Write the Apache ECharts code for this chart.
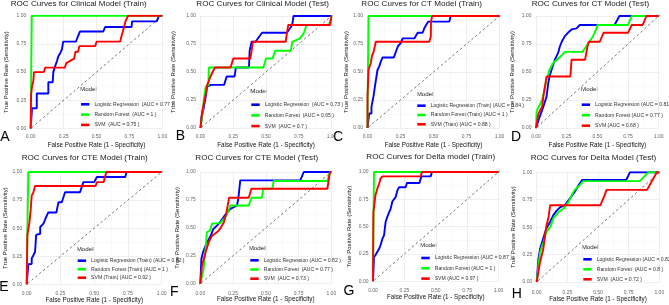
<!DOCTYPE html>
<html>
<head>
<meta charset="utf-8">
<script src="https://cdn.jsdelivr.net/npm/echarts@6/dist/echarts.min.js"></script>
<style>
html, body { margin: 0; padding: 0; background: #fff; }
#roc-chart { width: 669px; height: 305px; }
</style>
</head>
<body>
<div id="roc-chart"></div>
<script>
// [fpr, tpr] points
const clinTrainLR = [[0,0],[0.008,0],[0.01,0.18],[0.046,0.18],[0.046,0.31],[0.134,0.31],[0.134,0.41],[0.167,0.41],[0.172,0.5],[0.185,0.55],[0.2,0.6],[0.21,0.64],[0.225,0.67],[0.237,0.7],[0.247,0.77],[0.344,0.77],[0.36,0.82],[0.375,0.86],[0.552,0.86],[0.565,0.9],[0.767,0.9],[0.77,0.95],[0.957,0.95],[0.975,1],[1,1]];
const clinTrainRF = [[0,0],[0.008,1],[1,1]];
const clinTrainSVM = [[0,0],[0.003,0.3],[0.01,0.37],[0.02,0.42],[0.025,0.5],[0.1,0.5],[0.11,0.54],[0.26,0.54],[0.27,0.58],[0.3,0.6],[0.33,0.62],[0.34,0.68],[0.36,0.68],[0.37,0.73],[0.49,0.73],[0.5,0.77],[0.68,0.77],[0.69,0.82],[0.7,0.86],[0.71,0.9],[0.72,0.95],[0.74,1],[1,1]];

const clinTestLR = [[0,0],[0.008,0.1],[0.02,0.15],[0.04,0.28],[0.05,0.37],[0.08,0.385],[0.18,0.385],[0.2,0.46],[0.26,0.46],[0.27,0.54],[0.37,0.54],[0.375,0.69],[0.39,0.77],[0.42,0.77],[0.47,0.85],[0.66,0.85],[0.7,0.92],[0.71,1],[1,1]];
const clinTestRF = [[0,0],[0.013,0.1],[0.025,0.25],[0.04,0.37],[0.06,0.38],[0.064,0.54],[0.48,0.54],[0.5,0.62],[0.55,0.62],[0.57,0.69],[0.69,0.69],[0.7,0.77],[0.76,0.8],[0.79,0.85],[0.81,0.92],[0.98,0.92],[1,1]];
const clinTestSVM = [[0,0],[0.013,0.15],[0.04,0.3],[0.05,0.38],[0.076,0.46],[0.11,0.54],[0.23,0.54],[0.25,0.62],[0.38,0.62],[0.39,0.69],[0.4,0.77],[0.65,0.77],[0.66,0.85],[0.67,0.92],[0.99,0.92],[1,1]];

const ctTrainLR = [[0,0],[0.013,0.13],[0.03,0.13],[0.03,0.19],[0.045,0.28],[0.056,0.37],[0.068,0.46],[0.076,0.52],[0.089,0.55],[0.1,0.59],[0.114,0.63],[0.2,0.63],[0.23,0.73],[0.253,0.76],[0.266,0.8],[0.355,0.8],[0.38,0.85],[0.418,0.85],[0.43,0.89],[0.46,0.95],[0.62,0.95],[0.63,1],[1,1]];
const ctTrainRF = [[0,0],[0.003,0.46],[0.008,1],[1,1]];
const ctTrainSVM = [[0,0],[0,0.28],[0.008,0.52],[0.025,0.58],[0.033,0.64],[0.046,0.68],[0.063,0.77],[0.468,0.77],[0.48,0.82],[0.481,0.95],[0.49,1],[1,1]];

const ctTestLR = [[0,0],[0.03,0.1],[0.06,0.19],[0.086,0.28],[0.1,0.4],[0.11,0.46],[0.127,0.52],[0.154,0.61],[0.18,0.67],[0.195,0.73],[0.21,0.77],[0.235,0.82],[0.26,0.85],[0.29,0.88],[0.33,0.89],[0.357,0.92],[0.64,0.92],[0.68,1],[1,1]];
const ctTestRF = [[0,0],[0.005,0.15],[0.05,0.25],[0.086,0.43],[0.11,0.52],[0.14,0.58],[0.17,0.61],[0.21,0.65],[0.235,0.68],[0.38,0.68],[0.41,0.73],[0.465,0.82],[0.49,0.88],[0.5,0.92],[0.75,0.92],[0.78,1],[1,1]];
const ctTestSVM = [[0,0],[0.02,0.13],[0.05,0.19],[0.06,0.28],[0.086,0.46],[0.28,0.46],[0.29,0.61],[0.4,0.61],[0.42,0.73],[0.43,0.77],[0.52,0.77],[0.55,0.85],[0.75,0.85],[0.78,0.92],[0.87,0.92],[0.9,1],[1,1]];

const cteTrainLR = [[0,0],[0.012,0.18],[0.037,0.18],[0.037,0.23],[0.05,0.26],[0.062,0.29],[0.07,0.44],[0.1,0.45],[0.1,0.51],[0.124,0.54],[0.148,0.61],[0.16,0.64],[0.22,0.64],[0.235,0.73],[0.26,0.73],[0.284,0.82],[0.395,0.82],[0.42,0.91],[0.5,0.91],[0.52,0.955],[0.73,0.955],[0.74,1],[1,1]];
const cteTrainRF = [[0,0],[0.005,0.47],[0.012,1],[1,1]];
const cteTrainSVM = [[0,0],[0.005,0.44],[0.02,0.55],[0.03,0.67],[0.037,0.79],[0.05,0.82],[0.062,0.875],[0.51,0.875],[0.52,0.91],[0.57,0.91],[0.58,0.955],[0.59,1],[1,1]];

const cteTestLR = [[0,0],[0.008,0.22],[0.02,0.28],[0.05,0.37],[0.076,0.42],[0.1,0.49],[0.127,0.52],[0.15,0.55],[0.18,0.6],[0.2,0.63],[0.23,0.67],[0.28,0.7],[0.29,0.76],[0.305,0.925],[0.763,0.925],[0.79,1],[1,1]];
const cteTestRF = [[0,0],[0.025,0.13],[0.04,0.31],[0.05,0.46],[0.076,0.48],[0.09,0.54],[0.15,0.54],[0.18,0.58],[0.2,0.61],[0.23,0.7],[0.37,0.7],[0.39,0.77],[0.47,0.77],[0.48,0.85],[0.55,0.85],[0.56,0.92],[0.97,0.92],[0.99,1],[1,1]];
const cteTestSVM = [[0,0],[0.013,0.16],[0.04,0.28],[0.064,0.37],[0.09,0.43],[0.127,0.46],[0.15,0.49],[0.18,0.55],[0.2,0.64],[0.22,0.77],[0.37,0.77],[0.39,0.85],[0.97,0.85],[0.99,1],[1,1]];

const deltaTrainLR = [[0,0],[0.008,0.22],[0.02,0.24],[0.035,0.27],[0.05,0.3],[0.06,0.33],[0.075,0.39],[0.088,0.42],[0.1,0.54],[0.114,0.59],[0.128,0.63],[0.14,0.66],[0.154,0.73],[0.18,0.77],[0.194,0.83],[0.207,0.86],[0.26,0.86],[0.27,0.9],[0.37,0.9],[0.385,0.96],[0.46,0.96],[0.47,1],[1,1]];
const deltaTrainRF = [[0,0],[0.003,0.46],[0.008,1],[1,1]];
const deltaTrainSVM = [[0,0],[0.003,0.63],[0.013,0.63],[0.02,0.79],[0.035,0.85],[0.048,0.89],[0.06,0.94],[0.075,0.96],[0.38,0.96],[0.39,1],[1,1]];

const deltaTestLR = [[0,0],[0.014,0.21],[0.027,0.3],[0.054,0.4],[0.08,0.49],[0.11,0.55],[0.136,0.61],[0.163,0.65],[0.19,0.68],[0.23,0.7],[0.27,0.76],[0.31,0.82],[0.34,0.88],[0.37,0.93],[0.73,0.93],[0.76,1],[1,1]];
const deltaTestRF = [[0,0],[0.014,0.15],[0.027,0.27],[0.054,0.36],[0.08,0.46],[0.11,0.5],[0.136,0.58],[0.18,0.64],[0.22,0.67],[0.26,0.73],[0.285,0.79],[0.31,0.84],[0.35,0.88],[0.38,0.92],[0.84,0.92],[0.91,1],[1,1]];
const deltaTestSVM = [[0,0],[0.027,0.18],[0.054,0.3],[0.068,0.43],[0.08,0.52],[0.095,0.58],[0.11,0.7],[0.52,0.7],[0.55,0.78],[0.57,0.84],[0.9,0.84],[0.94,0.92],[0.98,1],[1,1]];

const diagonal = [[-0.05,-0.05],[1.05,1.05]];

const titles = [
  'ROC Curves for Clinical Model (Train)', 'ROC Curves for Clinical Model (Test)',
  'ROC Curves for CT Model (Train)', 'ROC Curves for CT Model (Test)',
  'ROC Curves for CTE Model (Train)', 'ROC Curves for CTE Model (Test)',
  'ROC Curves for Delta model (Train)', 'ROC Curves for Delta Model (Test)'
];
const letters = ['A', 'B', 'C', 'D', 'E', 'F', 'G', 'H'];
const legendLabels = [
  ['Logistic Regression  (AUC = 0.77 )', 'Random Forest  (AUC = 1 )', 'SVM  (AUC = 0.75 )'],
  ['Logistic Regression  (AUC = 0.73 )', 'Random Forest  (AUC = 0.65 )', 'SVM  (AUC = 0.7 )'],
  ['Logistic Regression (Train) (AUC = 0.84 )', 'Random Forest (Train) (AUC = 1 )', 'SVM (Train) (AUC = 0.88 )'],
  ['Logistic Regression (AUC = 0.81 )', 'Random Forest (AUC = 0.77 )', 'SVM (AUC = 0.68 )'],
  ['Logistic Regression (Train) (AUC = 0.82 )', 'Random Forest (Train) (AUC = 1 ) ', 'SVM (Train) (AUC = 0.92 )'],
  ['Logistic Regression (AUC = 0.82 )', 'Random Forest  (AUC = 0.77 )', 'SVM  (AUC = 0.73 )'],
  ['Logistic Regression (AUC = 0.87 )', 'Random Forest (AUC = 1 )', 'SVM (AUC = 0.97 )'],
  ['Logistic Regression (AUC = 0.82 )', 'Random Forest  (AUC = 0.8 )', 'SVM  (AUC = 0.72 )']
];
const curves = [
  [clinTrainLR, clinTrainRF, clinTrainSVM],
  [clinTestLR, clinTestRF, clinTestSVM],
  [ctTrainLR, ctTrainRF, ctTrainSVM],
  [ctTestLR, ctTestRF, ctTestSVM],
  [cteTrainLR, cteTrainRF, cteTrainSVM],
  [cteTestLR, cteTestRF, cteTestSVM],
  [deltaTrainLR, deltaTrainRF, deltaTrainSVM],
  [deltaTestLR, deltaTestRF, deltaTestSVM]
];

// pixel layout of each panel
const boxes = [
  { l: 30.7, t: 15.7, w: 131.6, h: 112.8, xGap: 14, yGap: 21, lm: 6, tx: 10.7, ty: 0, kx: 5, ky: 137, gx: 81, gy: 101.3, gg: 4.3, mx: 80, my: 90 },
  { l: 200.5, t: 16, w: 131, h: 112, xGap: 14, yGap: 24, lm: 6, tx: 196.3, ty: 0, kx: 180.3, ky: 136, gx: 251.3, gy: 101.7, gg: 4.7, mx: 250.3, my: 92.3 },
  { l: 367.5, t: 16, w: 132, h: 112, xGap: 14, yGap: 17, lm: 6, tx: 361.3, ty: 0, kx: 338, ky: 137.5, gx: 417.3, gy: 102.7, gg: 3.3, mx: 416.7, my: 95.7 },
  { l: 536, t: 16, w: 122.7, h: 112, xGap: 14, yGap: 21, lm: 6, tx: 531.7, ty: 0, kx: 516, ky: 137.3, gx: 581.7, gy: 101.7, gg: 4.5, mx: 581, my: 90.7 },
  { l: 26.7, t: 172, w: 135, h: 112.3, xGap: 11, yGap: 18, lm: 7, tx: 21.7, ty: 154, kx: 4, ky: 287, gx: 77.7, gy: 257.7, gg: 2.5, mx: 76.7, my: 250.3 },
  { l: 200.3, t: 172, w: 131, h: 111.7, xGap: 11.5, yGap: 20, lm: 7, tx: 195.3, ty: 154, kx: 174.3, ky: 292, gx: 250.3, gy: 257.3, gg: 3.2, mx: 248.7, my: 249.7 },
  { l: 373, t: 172, w: 125.5, h: 109.3, xGap: 13.2, yGap: 21, lm: 7, tx: 366.3, ty: 153, kx: 349, ky: 291, gx: 421.3, gy: 255, gg: 4.3, mx: 420, my: 246.3 },
  { l: 536.7, t: 172.3, w: 122.6, h: 109.7, xGap: 13, yGap: 20, lm: 8, tx: 530.7, ty: 154, kx: 516.7, ky: 293.7, gx: 583.3, gy: 256.3, gg: 4, mx: 581.7, my: 248.7 }
];

const modelColors = ['#0000FF', '#00FF00', '#FF0000'];
const fontFamily = 'Liberation Sans, Arial, sans-serif';

let rocChart = echarts.init(document.getElementById('roc-chart'));

let grid = [], xAxis = [], yAxis = [], title = [], legend = [], series = [], graphic = [];

function axisOpt(i, name, gap, margin, nameSize) {
  return {
    gridIndex: i,
    type: 'value',
    min: 0,
    max: 1,
    interval: 0.25,
    name: name,
    nameLocation: 'middle',
    nameGap: gap,
    nameTextStyle: { fontSize: nameSize, color: '#111', fontFamily: fontFamily },
    axisLine: { show: false },
    axisTick: { show: false },
    minorTick: { show: false, splitNumber: 2 },
    minorSplitLine: { show: true, lineStyle: { color: '#f3f3f3', width: 0.5 } },
    splitLine: { show: true, lineStyle: { color: '#e8e8e8', width: 0.7 } },
    axisLabel: {
      fontSize: 5,
      color: '#666',
      margin: margin,
      fontFamily: fontFamily,
      formatter: v => v.toFixed(2)
    }
  };
}

boxes.forEach((b, i) => {
  grid.push({ left: b.l, top: b.t, width: b.w, height: b.h });
  xAxis.push(axisOpt(i, 'False Positive Rate (1 - Specificity)', b.xGap, b.lm, 6.3));
  yAxis.push(axisOpt(i, 'True Positive Rate (Sensitivity)', b.yGap, 4.5, 6));
  title.push({
    text: titles[i],
    left: b.tx,
    top: b.ty,
    padding: 0,
    textStyle: { fontSize: 8.1, fontWeight: 'normal', color: '#1a1a1a', fontFamily: fontFamily }
  });
  legend.push({
    orient: 'vertical',
    left: b.gx,
    top: b.gy,
    padding: 0,
    itemWidth: 8.4,
    itemHeight: 2.6,
    itemGap: b.gg,
    icon: 'rect',
    selectedMode: false,
    textStyle: { fontSize: 5.1, lineHeight: 6, color: '#333', fontFamily: fontFamily },
    data: legendLabels[i]
  });
  series.push({
    type: 'line',
    xAxisIndex: i,
    yAxisIndex: i,
    data: diagonal,
    clip: false,
    symbol: 'none',
    silent: true,
    lineStyle: { color: '#555', width: 0.8, type: [2.5, 2.5] },
    z: 2
  });
  curves[i].forEach((pts, k) => {
    series.push({
      type: 'line',
      name: legendLabels[i][k],
      xAxisIndex: i,
      yAxisIndex: i,
      data: pts,
      symbol: 'none',
      lineStyle: { color: modelColors[k], width: 1.9 },
      itemStyle: { color: modelColors[k] },
      z: 3 + k
    });
  });
  graphic.push({
    type: 'text',
    left: b.mx,
    top: b.my - 4,
    style: { text: 'Model', fontSize: 6.2, fill: '#1a1a1a', fontFamily: fontFamily }
  });
  graphic.push({
    type: 'text',
    x: b.kx,
    y: b.ky,
    style: { text: letters[i], fontSize: 14, fill: '#000', fontFamily: fontFamily, align: 'center', verticalAlign: 'middle' }
  });
});

rocChart.setOption({
  animation: false,
  grid: grid,
  xAxis: xAxis,
  yAxis: yAxis,
  title: title,
  legend: legend,
  series: series,
  graphic: graphic
});
</script>
</body>
</html>
